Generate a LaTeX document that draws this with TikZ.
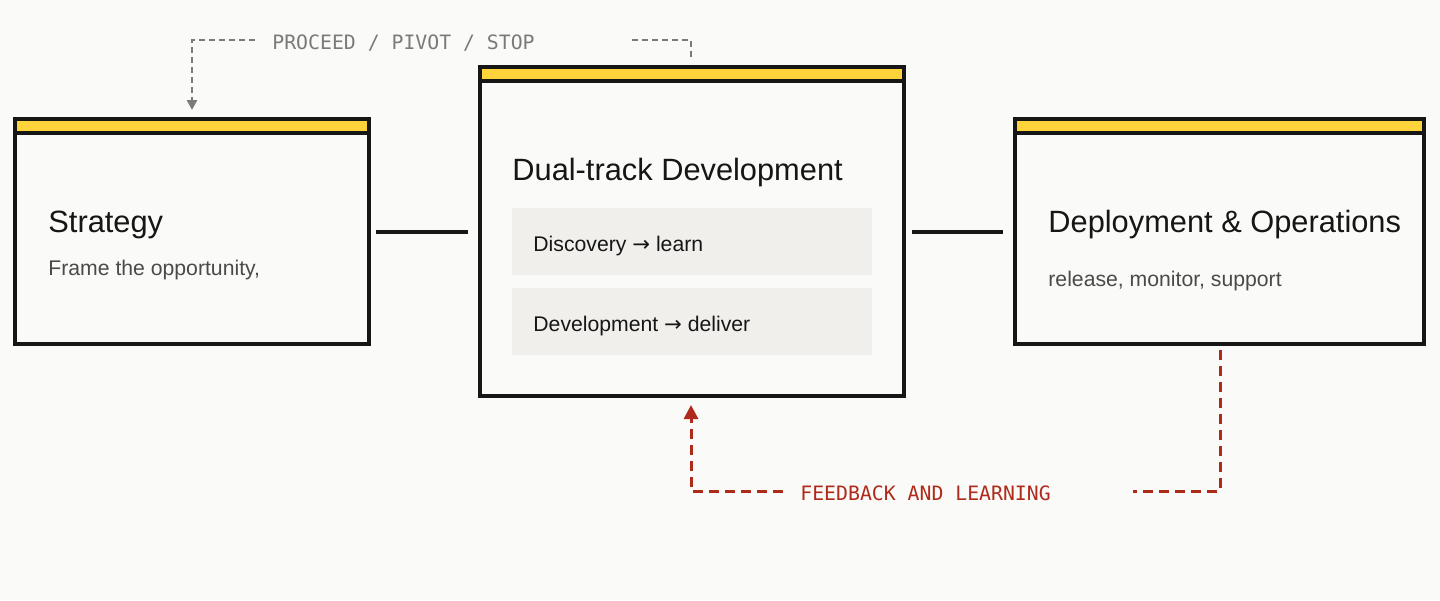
\documentclass[tikz,border=0pt]{standalone}
\usepackage{fontspec}
\setmainfont{Liberation Sans}
\newfontfamily\monofont{DejaVu Sans Mono}
\newfontfamily\symfont{DejaVu Sans}
\usetikzlibrary{arrows.meta,positioning}
\definecolor{bg}{HTML}{FAFAF8}
\definecolor{band}{HTML}{FFD43B}
\definecolor{ink}{HTML}{161616}
\definecolor{sub}{HTML}{4A4A4A}
\definecolor{track}{HTML}{F0EFEC}
\definecolor{loop}{HTML}{B02A1C}
\definecolor{gate}{HTML}{7A7A7A}
\tikzset{
  stage/.style={draw=ink, line width=1.6pt, fill=bg},
  bar/.style={draw=ink, line width=1.6pt, fill=band},
  title/.style={anchor=base west, text=ink, font=\fontsize{15.4}{17}\selectfont, inner sep=0pt},
  note/.style={anchor=base west, text=sub, font=\fontsize{10.6}{12}\selectfont, inner sep=0pt},
  lane/.style={fill=track, draw=none},
  link/.style={draw=ink, line width=1.6pt},
  back/.style={draw=loop, line width=1.5pt, dash pattern=on 5pt off 3pt},
  gatel/.style={draw=gate, line width=1.2pt, dash pattern=on 3pt off 2pt},
  tag/.style={anchor=base west, font=\monofont\fontsize{9.9}{11}\selectfont, inner sep=0pt},
}
\newcommand{\goes}{ {\symfont →} }
\begin{document}
\begin{tikzpicture}[x=0.5pt,y=-0.5pt]
  \fill[bg] (0,0) rectangle (1440,600);
  \useasboundingbox (0,0) rectangle (1440,600);

  % stages
  \draw[stage] (15,119) rectangle (369,344);
  \draw[bar] (15,119) rectangle (369,133);
  \node[title] (strategy) at (48,232) {Strategy};
  \node[note] (strategyn) at (48,275) {Frame the opportunity,};

  \draw[stage] (480,67) rectangle (904,396);
  \draw[bar] (480,67) rectangle (904,81);
  \node[title] (dual) at (512,180) {Dual-track Development};
  \fill[lane] (512,208) rectangle (872,275);
  \fill[lane] (512,288) rectangle (872,355);
  \node[note, text=ink] (disc) at (533,251) {Discovery\goes learn};
  \node[note, text=ink] (dev) at (533,331) {Development\goes deliver};

  \draw[stage] (1015,119) rectangle (1424,344);
  \draw[bar] (1015,119) rectangle (1424,133);
  \node[title] (deploy) at (1048,232) {Deployment \& Operations};
  \node[note] (deployn) at (1048,286) {release, monitor, support};

  % links between stages
  \coordinate (s1) at (376,232);
  \coordinate (s2) at (468,232);
  \coordinate (d1) at (912,232);
  \coordinate (d2) at (1003,232);
  \draw[link] (s1) -- (s2);
  \draw[link] (d1) -- (d2);

  % decision gate
  \coordinate (g0) at (691,57);
  \coordinate (g1) at (630,40);
  \coordinate (g2) at (255,40);
  \coordinate (g3) at (192,110);
  \draw[gatel] (g0) |- (g1);
  \draw[gatel, -{Triangle[length=5pt,width=5pt]}] (g2) -| (g3);
  \node[tag, text=gate] (gate) at (272,49) {PROCEED / PIVOT / STOP};

  % feedback loop
  \coordinate (f0) at (1220,350);
  \coordinate (f1) at (1133,491);
  \coordinate (f2) at (783,491);
  \coordinate (f3) at (691,405);
  \draw[back] (f0) |- (f1);
  \draw[back, -{Triangle[length=7pt,width=7pt]}] (f2) -| (f3);
  \node[tag, text=loop] (fb) at (800,500) {FEEDBACK AND LEARNING};
\end{tikzpicture}
\end{document}
